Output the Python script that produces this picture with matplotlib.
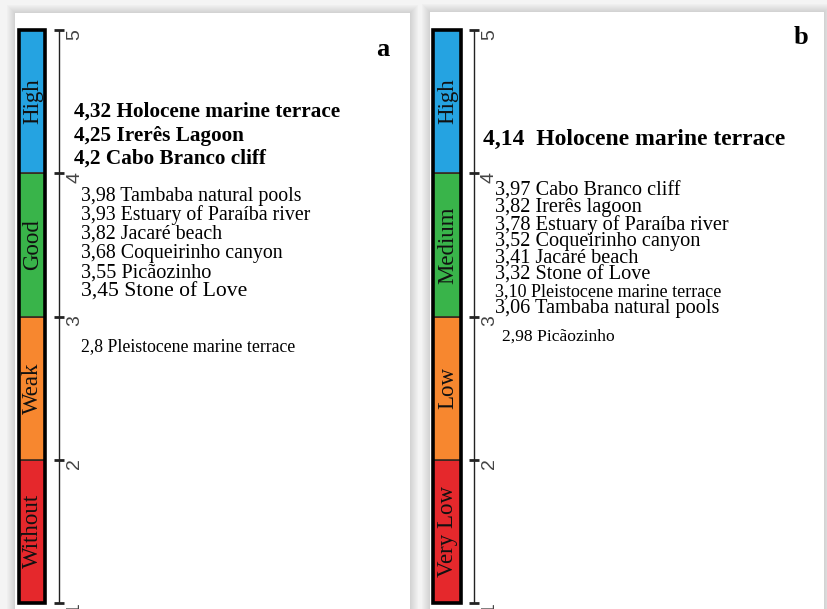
import numpy as np
import matplotlib.pyplot as plt
from matplotlib.patches import Rectangle

plt.rcParams['font.family'] = ['Liberation Serif', 'DejaVu Serif']

W, H = 828, 609

# rating scale shared by both panels
class_bounds = [1, 2, 3, 4, 5]
class_colors = ['#e5282c', '#f7872f', '#39b44a', '#25a3e1']
classes_a = ['Without', 'Weak', 'Good', 'High']
classes_b = ['Very Low', 'Low', 'Medium', 'High']

# panel a scores
sites_a = ['Holocene marine terrace', 'Irerês Lagoon', 'Cabo Branco cliff',
           'Tambaba natural pools', 'Estuary of Paraíba river', 'Jacaré beach',
           'Coqueirinho canyon', 'Picãozinho', 'Stone of Love',
           'Pleistocene marine terrace']
scores_a = [4.32, 4.25, 4.2, 3.98, 3.93, 3.82, 3.68, 3.55, 3.45, 2.8]

# panel b scores
sites_b = ['Holocene marine terrace', 'Cabo Branco cliff', 'Irerês lagoon',
           'Estuary of Paraíba river', 'Coqueirinho canyon', 'Jacaré beach',
           'Stone of Love', 'Pleistocene marine terrace', 'Tambaba natural pools',
           'Picãozinho']
scores_b = [4.14, 3.97, 3.82, 3.78, 3.52, 3.41, 3.32, 3.10, 3.06, 2.98]


def draw_card(bg, x0, x1, y0, y1):
    # soft drop shadow then the white card
    for i in range(8, 0, -1):
        bg.add_patch(Rectangle((x0 - i, y0 - i), x1 - x0 + 2 * i, y1 - y0 + 2 * i,
                               fc='#808080', ec='none', alpha=0.035, zorder=1))
    bg.add_patch(Rectangle((x0, y0), x1 - x0, y1 - y0, fc='white', ec='none', zorder=2))


def draw_scale(fig, x0, x1, classes, bar_l, bar_w, axis_x):
    ax = fig.add_axes([x0 / W, (H - 603) / H, (x1 - x0) / W, (603 - 30) / H])
    ax.set_xlim(0, x1 - x0)
    ax.set_ylim(class_bounds[0], class_bounds[-1])
    ax.axis('off')
    ax.patch.set_visible(False)
    lows = np.array(class_bounds[:-1])
    ax.bar(bar_l, np.diff(class_bounds), bottom=lows, width=bar_w, align='edge',
           color=class_colors, edgecolor='#3a2a20', linewidth=1.2)
    ax.add_patch(Rectangle((bar_l, class_bounds[0]), bar_w,
                           class_bounds[-1] - class_bounds[0],
                           fc='none', ec='black', lw=2.6, clip_on=False))
    for lo, name in zip(lows, classes):
        ax.text(bar_l + bar_w / 2 + 0.5, lo + 0.5, name, rotation=90, ha='center',
                va='center', fontsize=16.5, color='#111')
    # axis with crossing ticks
    ticks = np.arange(class_bounds[0], class_bounds[-1] + 1)
    ax.vlines(axis_x, ticks[0], ticks[-1], color='#222', lw=1.0)
    ax.hlines(ticks, axis_x - 5, axis_x + 5, color='#222', lw=2.0, clip_on=False)
    for t in ticks:
        ax.text(axis_x + 7, t - 0.03, f'{t}', rotation=90, ha='left', va='center',
                fontsize=14, color='#444', family='Liberation Sans')
    return ax


def draw_labels(bg, scores, sites, fmt, sep, groups):
    cls = np.digitize(scores, class_bounds[1:-1])
    for k, (x, y0, dy, size, weight) in groups.items():
        idx = [i for i in range(len(scores)) if cls[i] == k]
        for j, i in enumerate(idx):
            gap = sep if weight == 'bold' else ' '
            bg.text(x, y0 + j * dy, fmt(scores[i]).replace('.', ',') + gap + sites[i],
                    ha='left', va='center', fontsize=size[j] if isinstance(size, list) else size,
                    fontweight=weight, color='black', zorder=5)


fig = plt.figure(figsize=(W / 100, H / 100), dpi=100)
fig.patch.set_facecolor('#f4f4f4')
bg = fig.add_axes([0, 0, 1, 1])
bg.set_xlim(0, W)
bg.set_ylim(H, 0)
bg.axis('off')

# panel a
draw_card(bg, 15, 410, 13, H + 20)
draw_scale(fig, 15, 410, classes_a, 4, 26, 44)
draw_labels(bg, scores_a, sites_a, lambda v: f'{v:g}', ' ', {
    3: (74, 112, 23.5, 15.3, 'bold'),
    2: (81, 196, 19.2, [14.3, 14.3, 14.3, 14.3, 14.6, 15.6], 'normal'),
    1: (81, 347, 19, 12.8, 'normal'),
})
bg.text(383, 50, 'a', ha='center', va='center', fontsize=19, fontweight='bold', zorder=5)

# panel b
draw_card(bg, 430, 824, 12, H + 20)
draw_scale(fig, 430, 824, classes_b, 3, 28, 44)
draw_labels(bg, scores_b, sites_b, lambda v: f'{v:.2f}', '  ', {
    3: (483, 139, 20, 17, 'bold'),
    2: (495, 191, 16.8, [14.6, 14.6, 14.6, 14.6, 14.6, 14.6, 13, 14.6], 'normal'),
    1: (502, 337, 17, 12.6, 'normal'),
})
bg.text(801, 38, 'b', ha='center', va='center', fontsize=19, fontweight='bold', zorder=5)

fig.savefig('out.png', dpi=100)
